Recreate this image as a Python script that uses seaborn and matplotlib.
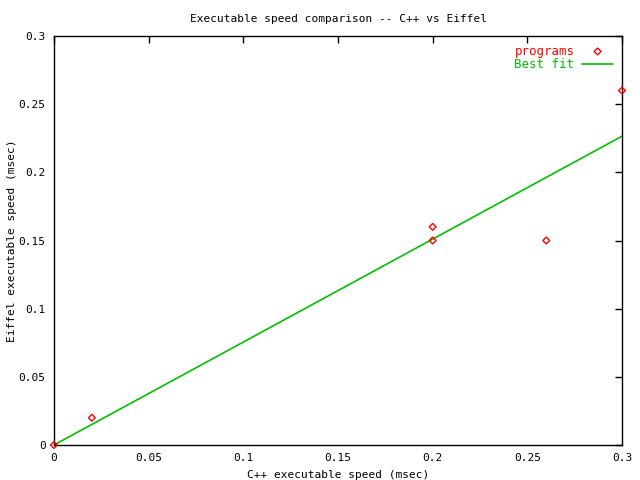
import matplotlib
matplotlib.use("Agg")
import matplotlib.pyplot as plt
import seaborn as sns
import pandas as pd

cpp_speed = [0.0, 0.02, 0.2, 0.2, 0.26, 0.3]
eiffel_speed = [0.0, 0.02, 0.16, 0.15, 0.15, 0.26]
fit_x = [0.0, 0.3]
fit_y = [0.0, 0.2265]
x_ticks = [0, 0.05, 0.1, 0.15, 0.2, 0.25, 0.3]
y_ticks = [0, 0.05, 0.1, 0.15, 0.2, 0.25, 0.3]
tick_labels = ["0", "0.05", "0.1", "0.15", "0.2", "0.25", "0.3"]

sns.set_style("white")
plt.rcParams['font.family'] = ['DejaVu Sans Mono']
plt.rcParams['font.size'] = 8
plt.rcParams['text.color'] = 'black'
plt.rcParams['axes.labelcolor'] = 'black'

pts = pd.DataFrame({"x": cpp_speed, "y": eiffel_speed})
fit = pd.DataFrame({"x": fit_x, "y": fit_y})

fig = plt.figure(figsize=(6.4, 4.8), dpi=100)
ax = fig.add_axes([54/640, 35/480, (622-54)/640, (445-36)/480])

sns.lineplot(data=fit, x="x", y="y", ax=ax, color="#00c000", linewidth=1.2, label="Best fit", zorder=2)
sns.scatterplot(data=pts, x="x", y="y", ax=ax, marker="D", s=12, facecolors="none",
                edgecolor="red", linewidth=1.0, label="programs", zorder=3, clip_on=False)

ax.set_xlim(0, 0.3)
ax.set_ylim(0, 0.3)
ax.set_xticks(x_ticks)
ax.set_xticklabels(tick_labels)
ax.set_yticks(y_ticks)
ax.set_yticklabels(tick_labels)
ax.tick_params(direction="in", top=True, right=True, length=5, width=1, pad=6, colors="black", labelsize=8)
for s in ax.spines.values():
    s.set_color("black")
    s.set_linewidth(1)

ax.set_xlabel("C++ executable speed (msec)", fontsize=8, labelpad=5, color="black")
ax.set_ylabel("Eiffel executable speed (msec)", fontsize=8, labelpad=1, color="black")
ax.set_title("Executable speed comparison -- C++ vs Eiffel", fontsize=8, pad=10, color="black")

handles, labels = ax.get_legend_handles_labels()
order = [labels.index("programs"), labels.index("Best fit")]
leg = ax.legend([handles[i] for i in order], [labels[i] for i in order], loc="upper right",
                frameon=False, markerfirst=False, fontsize=9, handlelength=2.5, borderaxespad=0.3,
                labelspacing=0.05, handletextpad=0.6)
for txt, col in zip(leg.get_texts(), ["red", "#00c000"]):
    txt.set_color(col)

fig.savefig("out.png", dpi=100)
